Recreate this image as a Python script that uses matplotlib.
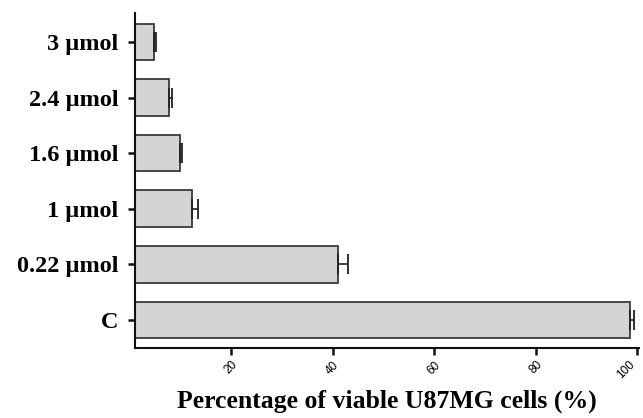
import matplotlib
matplotlib.use("Agg")
import matplotlib.pyplot as plt

categories = ["C", "0.22 \u00b5mol", "1 \u00b5mol", "1.6 \u00b5mol", "2.4 \u00b5mol", "3 \u00b5mol"]
values = [98.7, 41.1, 12.3, 9.9, 7.8, 4.8]
errors = [0.65, 1.9, 1.1, 0.3, 0.45, 0.3]
xticks = [20, 40, 60, 80, 100]

fig = plt.figure(figsize=(6.43, 4.18), dpi=100)
ax = fig.add_axes([135/643, 1-347.7/418, (638.5-135)/643, (347.7-13)/418])

pos = list(range(len(categories)))
ax.barh(pos, values, height=0.66, color="#d4d4d4", edgecolor="#3a3a3a", linewidth=1.3,
        xerr=[[0]*len(errors), errors],
        error_kw=dict(ecolor="#222222", elinewidth=1.2, capsize=7, capthick=1.3))

ax.set_xlim(1, 100.3)
ax.set_ylim(-0.5, 5.52)
ax.set_yticks(pos)
ax.set_yticklabels(categories, fontfamily="Liberation Serif", fontweight="bold", fontsize=17.5)
ax.set_xticks(xticks)
ax.set_xticklabels([str(t) for t in xticks], fontfamily="Liberation Sans", fontsize=8.5,
                   rotation=45, ha="center", va="top")
for tick in ax.xaxis.get_major_ticks()[-1:]:
    tick.label1.set_horizontalalignment("right")
for s in ["top", "right"]:
    ax.spines[s].set_visible(False)
for s in ["left", "bottom"]:
    ax.spines[s].set_linewidth(1.5)
    ax.spines[s].set_color("#111111")
ax.tick_params(axis="both", width=1.8, length=5, color="#111111")
ax.tick_params(axis="y", pad=7)
ax.tick_params(axis="x", pad=3)
ax.set_xlabel("Percentage of viable U87MG cells (%)", fontfamily="Liberation Serif",
              fontweight="bold", fontsize=18.5, labelpad=6)
fig.savefig("out.png", dpi=100)
